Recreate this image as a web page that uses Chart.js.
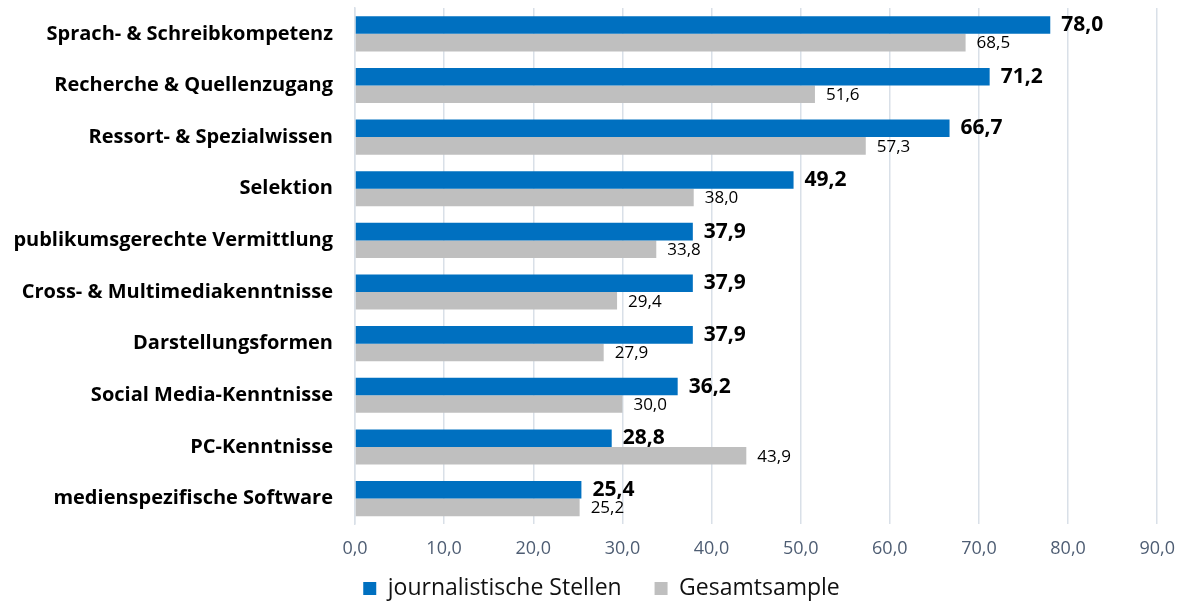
<!DOCTYPE html>
<html>
<head>
<meta charset="utf-8">
<script src="https://cdn.jsdelivr.net/npm/chart.js@4/dist/chart.umd.min.js"></script>
<style>
  html, body { margin: 0; padding: 0; background: #fff; }
  #wrap { width: 1189px; height: 601px; }
</style>
</head>
<body>
<div id="wrap"><canvas id="skillsChart"></canvas></div>
<script>
const categories = [
    'Sprach- & Schreibkompetenz',
    'Recherche & Quellenzugang',
    'Ressort- & Spezialwissen',
    'Selektion',
    'publikumsgerechte Vermittlung',
    'Cross- & Multimediakenntnisse',
    'Darstellungsformen',
    'Social Media-Kenntnisse',
    'PC-Kenntnisse',
    'medienspezifische Software'
];
const journalistValues = [78.0, 71.2, 66.7, 49.2, 37.9, 37.9, 37.9, 36.2, 28.8, 25.4];
const totalValues = [68.5, 51.6, 57.3, 38.0, 33.8, 29.4, 27.9, 30.0, 43.9, 25.2];
const seriesNames = ['journalistische Stellen', 'Gesamtsample'];

const fontFamily = '"Open Sans", Lato, sans-serif';
const fmt = v => v.toFixed(1).replace('.', ',');

// draws the value next to each bar end
const valueLabels = {
    id: 'valueLabels',
    afterDatasetsDraw(chart) {
        const c = chart.ctx;
        chart.data.datasets.forEach((ds, i) => {
            const meta = chart.getDatasetMeta(i);
            c.save();
            c.fillStyle = '#000';
            c.textBaseline = 'middle';
            c.textAlign = 'left';
            c.font = i === 0 ? 'bold 21px ' + fontFamily : '17px ' + fontFamily;
            meta.data.forEach((bar, j) => {
                c.fillText(fmt(ds.data[j]), bar.x + 11, bar.y + (i === 0 ? 0 : 1));
            });
            c.restore();
        });
    }
};

// nudge the legend a little to the right, like in the original
const legendShift = {
    id: 'legendShift',
    afterLayout(chart) {
        if (chart.legend) {
            chart.legend.left += 22;
            chart.legend.right += 22;
        }
    }
};

const ctx = document.getElementById('skillsChart').getContext('2d');
new Chart(ctx, {
    type: 'bar',
    data: {
        labels: categories,
        datasets: [{
            label: seriesNames[0],
            data: journalistValues,
            backgroundColor: '#0070c0',
            borderWidth: 0,
            categoryPercentage: 0.68,
            barPercentage: 1.0
        }, {
            label: seriesNames[1],
            data: totalValues,
            backgroundColor: '#bfbfbf',
            borderWidth: 0,
            categoryPercentage: 0.68,
            barPercentage: 1.0
        }]
    },
    options: {
        indexAxis: 'y',
        responsive: true,
        maintainAspectRatio: false,
        animation: false,
        layout: { padding: { top: 8, right: 30, bottom: -9, left: 0 } },
        scales: {
            x: {
                min: 0,
                max: 90,
                ticks: {
                    stepSize: 10,
                    color: '#4e5d73',
                    font: { size: 18, family: fontFamily },
                    padding: 14,
                    callback: v => fmt(v)
                },
                grid: { color: '#d9e0e8', lineWidth: 1.5, drawTicks: false },
                border: { display: false }
            },
            y: {
                ticks: {
                    color: '#000',
                    font: { size: 20, weight: 'bold', family: fontFamily },
                    padding: 22
                },
                grid: { display: false, drawTicks: false },
                border: { display: true, color: '#d9e0e8', width: 1.5 },
                afterFit: scale => {
                    scale.width = 355;
                    scale.paddingTop = 0;
                    scale.paddingBottom = 0;
                }
            }
        },
        plugins: {
            legend: {
                position: 'bottom',
                labels: {
                    color: '#111',
                    font: { size: 23, family: fontFamily },
                    boxWidth: 13,
                    boxHeight: 13,
                    padding: 3,
                    useBorderRadius: false,
                    // a bit more room between the two entries
                    generateLabels: chart => {
                        const items = Chart.defaults.plugins.legend.labels.generateLabels(chart);
                        items[0].text += '     ';
                        return items;
                    }
                }
            },
            tooltip: { enabled: false }
        }
    },
    plugins: [valueLabels, legendShift]
});
</script>
</body>
</html>
